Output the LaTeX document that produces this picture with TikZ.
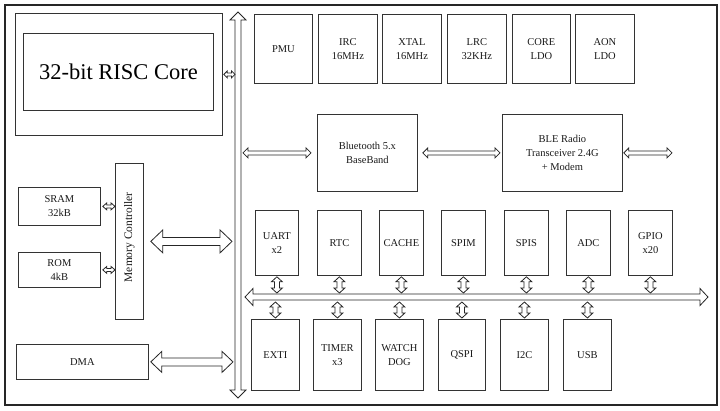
\documentclass[tikz,border=0pt]{standalone}
\usepackage{fontspec}
\setmainfont{Liberation Serif}
\usetikzlibrary{calc}
\tikzset{
  box/.style={draw=black!80, line width=0.8pt, inner sep=0pt, anchor=north west,
    align=center, text=black!90, font=\fontsize{10.5}{14}\selectfont},
  hollow/.style={draw=black!85, fill=white, line width=0.8pt, line join=miter},
  frame/.style={draw=black!85, line width=1.8pt, inner sep=0pt, anchor=north west},
}
% horizontal double hollow arrow: #1 y-ref, #2 left end, #3 right end, #4 shaft half, #5 head half, #6 head length
\newcommand\harr[6]{\draw[hollow] let \p1=#1, \p2=#2, \p3=#3 in
  (\x2,\y1) -- (\x2+#6,\y1+#5) -- (\x2+#6,\y1+#4) -- (\x3-#6,\y1+#4) -- (\x3-#6,\y1+#5) --
  (\x3,\y1) -- (\x3-#6,\y1-#5) -- (\x3-#6,\y1-#4) -- (\x2+#6,\y1-#4) -- (\x2+#6,\y1-#5) -- cycle;}
% vertical double hollow arrow: #1 x-ref, #2 top end, #3 bottom end
\newcommand\varr[6]{\draw[hollow] let \p1=#1, \p2=#2, \p3=#3 in
  (\x1,\y2) -- (\x1+#5,\y2-#6) -- (\x1+#4,\y2-#6) -- (\x1+#4,\y3+#6) -- (\x1+#5,\y3+#6) --
  (\x1,\y3) -- (\x1-#5,\y3+#6) -- (\x1-#4,\y3+#6) -- (\x1-#4,\y2-#6) -- (\x1-#5,\y2-#6) -- cycle;}
\begin{document}
\begin{tikzpicture}[x=1pt,y=-1pt]
\useasboundingbox (0,0) rectangle (720,410);
\node[frame, minimum width=712pt, minimum height=400pt] (frame) at (4,4) {};

% core
\node[box, minimum width=207pt, minimum height=122pt] (coreout) at (15,13) {};
\node[box, minimum width=190pt, minimum height=77pt, font=\fontsize{22.5}{26}\selectfont, text=black] (core) at (23,33) {32-bit RISC Core};

% top row
\node[box, minimum width=58pt, minimum height=69pt] (pmu) at (254,14) {PMU};
\node[box, minimum width=59pt, minimum height=69pt] (irc) at (318,14) {IRC\\16MHz};
\node[box, minimum width=59pt, minimum height=69pt] (xtal) at (382,14) {XTAL\\16MHz};
\node[box, minimum width=59pt, minimum height=69pt] (lrc) at (447,14) {LRC\\32KHz};
\node[box, minimum width=58pt, minimum height=69pt] (coreldo) at (512,14) {CORE\\LDO};
\node[box, minimum width=59pt, minimum height=69pt] (aon) at (575,14) {AON\\LDO};

% radio
\node[box, minimum width=100pt, minimum height=77pt] (bt) at (317,114) {Bluetooth 5.x\\BaseBand};
\node[box, minimum width=120pt, minimum height=77pt] (ble) at (502,114) {BLE Radio\\Transceiver 2.4G\\+ Modem};

% middle peripherals
\node[box, minimum width=43pt, minimum height=65pt] (uart) at (255,210) {UART\\x2};
\node[box, minimum width=44pt, minimum height=65pt] (rtc) at (317,210) {RTC};
\node[box, minimum width=44pt, minimum height=65pt] (cache) at (379,210) {CACHE};
\node[box, minimum width=44pt, minimum height=65pt] (spim) at (441,210) {SPIM};
\node[box, minimum width=44pt, minimum height=65pt] (spis) at (504,210) {SPIS};
\node[box, minimum width=44pt, minimum height=65pt] (adc) at (566,210) {ADC};
\node[box, minimum width=44pt, minimum height=65pt] (gpio) at (628,210) {GPIO\\x20};

% bottom peripherals
\node[box, minimum width=48pt, minimum height=71pt] (exti) at (251,319) {EXTI};
\node[box, minimum width=48pt, minimum height=71pt] (timer) at (313,319) {TIMER\\x3};
\node[box, minimum width=48pt, minimum height=71pt] (watch) at (375,319) {WATCH\\DOG};
\node[box, minimum width=47pt, minimum height=71pt] (qspi) at (438,319) {QSPI};
\node[box, minimum width=48pt, minimum height=71pt] (i2c) at (500,319) {I2C};
\node[box, minimum width=48pt, minimum height=71pt] (usb) at (563,319) {USB};

% memory
\node[box, minimum width=82pt, minimum height=38pt] (sram) at (18,187) {SRAM\\32kB};
\node[box, minimum width=82pt, minimum height=35pt] (rom) at (18,252) {ROM\\4kB};
\node[box, minimum width=28pt, minimum height=156pt] (mc) at (115,163) {};
\node[rotate=90, text=black!90, font=\fontsize{11.5}{14}\selectfont, inner sep=0pt] (mclabel) at ([yshift=4pt]mc.center) {Memory Controller};
\node[box, minimum width=132pt, minimum height=35pt] (dma) at (16,344) {DMA};

% bus end points
\coordinate (vbt) at (238,12);
\coordinate (vbb) at (238,398);
\coordinate (hbl) at (245,297);
\coordinate (hbr) at (708,297);
\coordinate (bler) at (672,151);

% vertical system bus
\varr{(vbt)}{(vbt)}{(vbb)}{3pt}{8pt}{8pt}
% horizontal peripheral bus
\harr{(hbl)}{(hbl)}{(hbr)}{3pt}{8.5pt}{8pt}

% connectors to the system bus
\harr{(coreout.east)}{([xshift=1pt]coreout.east)}{([xshift=-3pt]vbt)}{1.5pt}{3.5pt}{3.5pt}
\harr{(sram.east)}{([xshift=2pt]sram.east)}{(mc.west)}{1.5pt}{3.5pt}{4pt}
\harr{(rom.east)}{([xshift=2pt]rom.east)}{(mc.west)}{1.5pt}{3.5pt}{4pt}
\harr{(mc.east)}{([xshift=7pt]mc.east)}{([xshift=-6pt]vbt)}{4pt}{11.5pt}{12pt}
\harr{(dma.east)}{([xshift=2pt]dma.east)}{([xshift=-5pt]vbt)}{4pt}{10.5pt}{11pt}

% radio chain
\harr{(bt.west)}{([xshift=5pt]vbt)}{([xshift=-6pt]bt.west)}{2pt}{5pt}{5pt}
\harr{(bt.east)}{([xshift=5pt]bt.east)}{([xshift=-2pt]ble.west)}{2pt}{5pt}{5pt}
\harr{(ble.east)}{([xshift=1pt]ble.east)}{(bler)}{2pt}{5pt}{5pt}

% peripherals to the bus
\foreach \nm in {uart,rtc,cache,spim,spis,adc,gpio}{
  \varr{(\nm)}{([yshift=-1pt]\nm.south)}{([yshift=4pt]hbl)}{2.5pt}{5.5pt}{5pt}
}
\foreach \nm in {exti,timer,watch,qspi,i2c,usb}{
  \varr{(\nm)}{([yshift=-5pt]hbl)}{([yshift=1pt]\nm.north)}{2.5pt}{5.5pt}{5pt}
}
\end{tikzpicture}
\end{document}
